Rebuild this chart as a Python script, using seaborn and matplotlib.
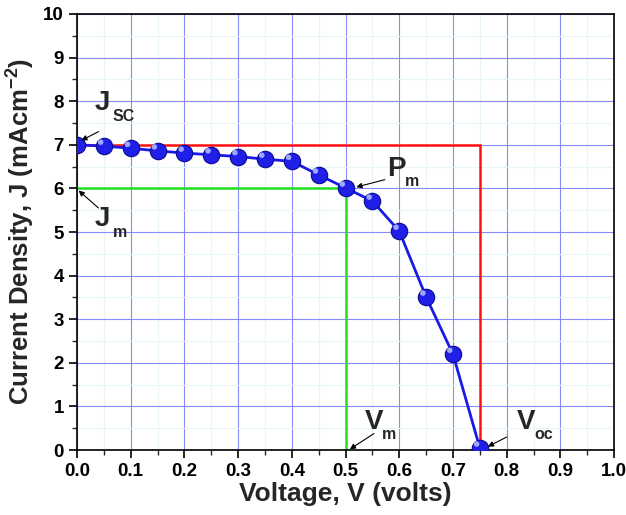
import numpy as np
import pandas as pd
import matplotlib
matplotlib.use("Agg")
import matplotlib.pyplot as plt
from matplotlib.ticker import MultipleLocator
import seaborn as sns

# J-V data
voltage = [0.0, 0.05, 0.10, 0.15, 0.20, 0.25, 0.30, 0.35, 0.40, 0.45, 0.50, 0.55, 0.60, 0.65, 0.70, 0.75]
current = [7.0, 6.97, 6.92, 6.86, 6.81, 6.77, 6.73, 6.67, 6.62, 6.31, 6.01, 5.71, 5.02, 3.51, 2.2, 0.05]

v_oc, j_sc = 0.75, 7.0
v_m, j_m = 0.5, 6.0

df = pd.DataFrame({"V": voltage, "J": current})

sns.set_theme(style="white")
plt.rcParams["font.family"] = ["Liberation Sans", "DejaVu Sans"]
plt.rcParams["font.weight"] = "bold"
plt.rcParams["mathtext.default"] = "regular"

fig = plt.figure(figsize=(6.26, 5.15), dpi=100)
ax = fig.add_axes([0.123, 0.126, 0.858, 0.847])

ax.xaxis.set_major_locator(MultipleLocator(0.1))
ax.xaxis.set_minor_locator(MultipleLocator(0.05))
ax.yaxis.set_major_locator(MultipleLocator(1))
ax.yaxis.set_minor_locator(MultipleLocator(0.5))
ax.grid(which="major", color="#8a8aff", lw=0.8)
ax.grid(which="minor", color="#e8f6fa", lw=0.8)
ax.set_axisbelow(True)

# reference lines
ax.plot([0, v_oc], [j_sc, j_sc], color="#ff1010", lw=1.8, zorder=2)
ax.plot([v_oc, v_oc], [j_sc, 0], color="#ff1010", lw=1.8, zorder=2)
ax.plot([0, v_m], [j_m, j_m], color="#22e022", lw=1.8, zorder=2)
ax.plot([v_m, v_m], [j_m, 0], color="#22e022", lw=1.8, zorder=2)

sns.lineplot(data=df, x="V", y="J", ax=ax, color="#1a1ae6", lw=2, zorder=3)
sns.scatterplot(data=df, x="V", y="J", ax=ax, s=140, color="#1f1fe8",
                edgecolor="#0a0a90", linewidth=0.8, zorder=4)
# highlight on the spheres
ax.scatter(df["V"] - 0.006, df["J"] + 0.09, s=16, color="#9fa8ff",
           edgecolor="none", zorder=5)

ax.set_xlim(0, 1.0)
ax.set_ylim(0, 10)
for s in ax.spines.values():
    s.set_color("black")
    s.set_linewidth(1.2)
ax.tick_params(which="major", direction="out", length=6, width=1.2,
               labelsize=13.5, colors="black", left=True, bottom=True)
ax.tick_params(which="minor", direction="out", length=3.5, width=1.0,
               left=True, bottom=True)
for lab in ax.get_xticklabels() + ax.get_yticklabels():
    lab.set_fontweight("bold")

ax.set_xlabel("Voltage, V (volts)", fontsize=19, fontweight="bold", labelpad=1)
ax.set_ylabel("Current Density, J (mAcm$^{-2}$)", fontsize=18.5, fontweight="bold", labelpad=4)


def label(x, y, main, sub, tail, head):
    ax.text(x, y, main, fontsize=20, fontweight="bold", ha="left", va="center", zorder=6)
    ax.text(x + 0.033, y - 0.3, sub, fontsize=11.5, fontweight="bold", ha="left", va="center", zorder=6)
    ax.annotate("", xy=head, xytext=tail,
                arrowprops=dict(arrowstyle="-|>", color="black", lw=0.8,
                                mutation_scale=8, shrinkA=0, shrinkB=0), zorder=6)


label(0.033, 7.95, "J", "SC", (0.04, 7.3), (0.008, 7.1))
label(0.033, 5.3, "J", "m", (0.04, 5.55), (0.003, 5.95))
label(0.578, 6.45, "P", "m", (0.573, 6.2), (0.52, 6.03))
label(0.535, 0.65, "V", "m", (0.553, 0.38), (0.508, 0.02))
label(0.818, 0.65, "V", "oc", (0.8, 0.3), (0.765, 0.08))

fig.savefig("out.png", dpi=100)
